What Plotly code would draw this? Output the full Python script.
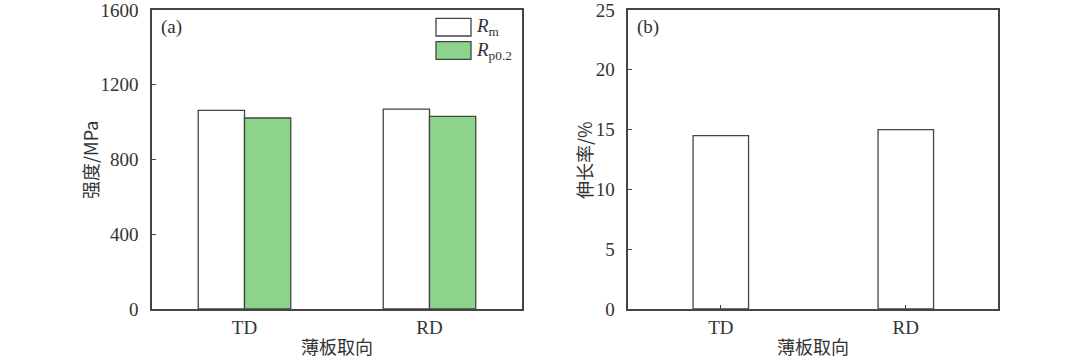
import plotly.graph_objects as go

categories = ["TD", "RD"]
rm_values = [1063, 1070]
rp02_values = [1022, 1031]
elongation_values = [14.5, 15.0]
strength_ticks = [0, 400, 800, 1200, 1600]
elong_ticks = [0, 5, 10, 15, 20, 25]

W, H = 1080, 359
def px(x): return x / W
def py(y): return 1 - y / H

line_col = "#444444"
green = "#8CD48C"
tick_font = dict(family="Liberation Serif, Times New Roman, serif", size=19, color="#333333")
cjk_font = dict(family="Noto Sans CJK SC", size=18, color="#333333")

fig = go.Figure()
fig.add_trace(go.Bar(x=categories, y=rm_values, name="Rm", marker=dict(color="white", line=dict(color=line_col, width=1.3)),
                     xaxis="x", yaxis="y", showlegend=False))
fig.add_trace(go.Bar(x=categories, y=rp02_values, name="Rp0.2", marker=dict(color=green, line=dict(color=line_col, width=1.3)),
                     xaxis="x", yaxis="y", showlegend=False))
fig.add_trace(go.Bar(x=categories, y=elongation_values, name="A", marker=dict(color="white", line=dict(color=line_col, width=1.3)),
                     xaxis="x2", yaxis="y2", showlegend=False, width=0.3))

ax_common = dict(showline=True, linecolor=line_col, linewidth=1.5, mirror=True, ticks="inside", ticklen=4,
                 tickcolor=line_col, tickfont=tick_font, showgrid=False, zeroline=False,
                 ticklabeloverflow="allow", automargin=False)

fig.update_layout(
    width=W, height=H, margin=dict(l=0, r=0, t=0, b=0, autoexpand=False),
    paper_bgcolor="white", plot_bgcolor="white",
    barmode="group", bargap=0.5, bargroupgap=0,
    xaxis=dict(domain=[px(152), px(522)], anchor="y", range=[-0.5, 1.5], **ax_common),
    yaxis=dict(domain=[py(309), py(10)], anchor="x", range=[0, 1600], tickvals=strength_ticks,
               ticklabelstandoff=8, **ax_common),
    xaxis2=dict(domain=[px(628.3), px(998.3)], anchor="y2", range=[-0.5, 1.5], **ax_common),
    yaxis2=dict(domain=[py(309), py(10)], anchor="x2", range=[0, 25], tickvals=elong_ticks,
                ticklabelstandoff=8, **ax_common),
)

annotations = [
    dict(x=px(337), y=py(346), text="薄板取向", font=cjk_font),
    dict(x=px(813), y=py(346), text="薄板取向", font=cjk_font),
    dict(x=px(90), y=py(160), text="强度/MPa", textangle=-90, font=cjk_font),
    dict(x=px(584), y=py(160), text="伸长率/%", textangle=-90, font=cjk_font),
    dict(x=px(159), y=py(27), text="(a)", xanchor="left", font=tick_font),
    dict(x=px(635), y=py(27), text="(b)", xanchor="left", font=tick_font),
    dict(x=px(474), y=py(27), text="<i>R</i><sub>m</sub>", xanchor="left", font=tick_font),
    dict(x=px(474), y=py(51), text="<i>R</i><sub>p0.2</sub>", xanchor="left", font=tick_font),
]
for a in annotations:
    a.update(xref="paper", yref="paper", showarrow=False)
    a.setdefault("xanchor", "center")
    a.setdefault("yanchor", "middle")
fig.update_layout(annotations=annotations)

fig.update_layout(shapes=[
    dict(type="rect", xref="paper", yref="paper", x0=px(436), x1=px(471), y0=py(36), y1=py(18.3),
         fillcolor="white", line=dict(color=line_col, width=1.3)),
    dict(type="rect", xref="paper", yref="paper", x0=px(436), x1=px(471), y0=py(59.3), y1=py(41.7),
         fillcolor=green, line=dict(color=line_col, width=1.3)),
])

post = "document.body.style.margin='0';document.body.style.overflow='hidden';"
fig.write_html("out.html", post_script=post, config={"displayModeBar": False})
